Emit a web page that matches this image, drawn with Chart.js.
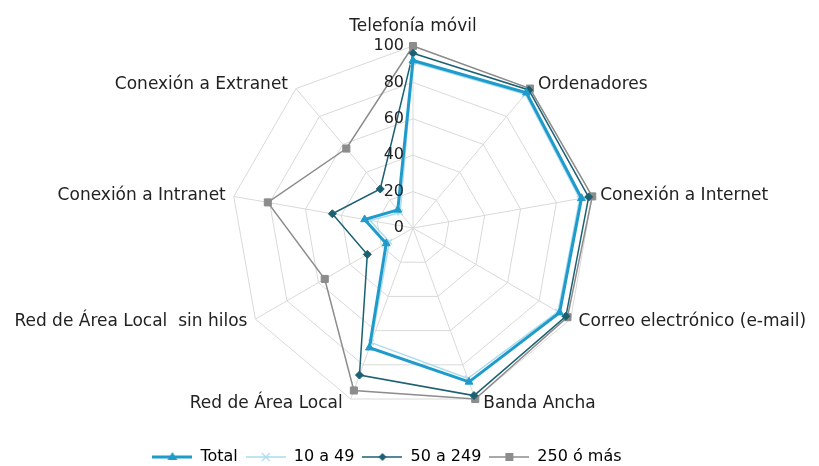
<!DOCTYPE html>
<html>
<head>
<meta charset="utf-8">
<script src="https://cdn.jsdelivr.net/npm/chart.js@4/dist/chart.umd.min.js"></script>
<style>
  html, body { margin: 0; padding: 0; background: #fff; }
  #wrap { width: 819px; height: 466px; position: relative; }
</style>
</head>
<body>
<div id="wrap"><canvas id="chart"></canvas></div>
<script>
// Categories (clockwise from top)
const categories = [
    'Telefonía móvil',
    'Ordenadores',
    'Conexión a Internet',
    'Correo electrónico (e-mail)',
    'Banda Ancha',
    'Red de Área Local',
    'Red de Área Local  sin hilos',
    'Conexión a Intranet',
    'Conexión a Extranet'
];

// Series values (% of companies)
const total      = [92, 97, 94, 93, 90, 70, 17, 27, 13];
const de10a49    = [91, 96, 93, 92, 88, 67, 15, 24, 11];
const de50a249   = [96, 99, 98, 97, 98, 86, 29, 45, 28];
const de250omas  = [100, 100, 100, 98, 100, 95, 56, 81, 57];

const tickValues = [0, 20, 40, 60, 80, 100];

const FONT = 'DejaVu Sans';

// Legend glyph: short line with marker in the middle (Excel style)
function legendGlyph(color, width, style, markerColor) {
    const c = document.createElement('canvas');
    c.width = 40; c.height = 14;
    const ctx = c.getContext('2d');
    ctx.strokeStyle = color;
    ctx.lineWidth = width;
    ctx.beginPath();
    ctx.moveTo(0, 7); ctx.lineTo(40, 7);
    ctx.stroke();
    ctx.fillStyle = markerColor;
    ctx.strokeStyle = markerColor;
    if (style === 'triangle') {
        ctx.beginPath();
        ctx.moveTo(20, 2); ctx.lineTo(25, 10); ctx.lineTo(15, 10);
        ctx.closePath(); ctx.fill();
    } else if (style === 'cross') {
        ctx.lineWidth = 1.2;
        ctx.beginPath();
        ctx.moveTo(16, 3); ctx.lineTo(24, 11);
        ctx.moveTo(24, 3); ctx.lineTo(16, 11);
        ctx.stroke();
    } else if (style === 'diamond') {
        ctx.beginPath();
        ctx.moveTo(20, 3); ctx.lineTo(24, 7); ctx.lineTo(20, 11); ctx.lineTo(16, 7);
        ctx.closePath(); ctx.fill();
    } else {
        ctx.fillRect(16, 3, 8, 8);
    }
    return c;
}

const seriesStyle = [
    { label: 'Total',     data: total,     color: '#1f9bcb', width: 3,   point: 'triangle',  r: 4.5, glyph: 'triangle' },
    { label: '10 a 49',   data: de10a49,   color: '#a9dcee', width: 1.5, point: 'crossRot',  r: 4,   glyph: 'cross' },
    { label: '50 a 249',  data: de50a249,  color: '#1c6172', width: 1.5, point: 'rectRot',   r: 4,   glyph: 'diamond' },
    { label: '250 ó más', data: de250omas, color: '#8c8c8c', width: 1.5, point: 'rect',      r: 5,   glyph: 'square' }
];

// Tick labels left of the vertical axis and Excel-like category labels,
// both placed from the radial scale
const radarText = {
    id: 'radarText',
    afterLayout(chart) {
        // legend sits below the plot, a bit left of centre
        if (chart.legend) {
            chart.legend.top += 31;
            chart.legend.bottom += 31;
            chart.legend.right -= 52;
        }
    },
    afterDatasetsDraw(chart) {
        const s = chart.scales.r;
        const ctx = chart.ctx;
        ctx.save();
        ctx.fillStyle = '#222';

        ctx.font = '16px "' + FONT + '"';
        ctx.textAlign = 'right';
        ctx.textBaseline = 'middle';
        tickValues.forEach(v => {
            const d = s.getDistanceFromCenterForValue(v);
            ctx.fillText(String(v), s.xCenter - 9, s.yCenter - d);
        });

        ctx.font = '17px "' + FONT + '"';
        const outer = s.getDistanceFromCenterForValue(100);
        categories.forEach((label, i) => {
            const p = s.getPointPosition(i, outer);
            const deg = i * 360 / categories.length;
            if (deg === 0) {
                ctx.textAlign = 'center';
                ctx.fillText(label, p.x, p.y - 19);
                return;
            }
            const dy = -5 * Math.cos(deg * Math.PI / 180);
            ctx.textAlign = deg < 180 ? 'left' : 'right';
            ctx.fillText(label, p.x + (deg < 180 ? 8 : -8), p.y + dy);
        });
        ctx.restore();
    }
};

new Chart(document.getElementById('chart'), {
    type: 'radar',
    data: {
        labels: categories,
        datasets: seriesStyle.map(s => ({
            label: s.label,
            data: s.data,
            borderColor: s.color,
            backgroundColor: s.color,
            borderWidth: s.width,
            fill: false,
            tension: 0,
            pointStyle: s.point,
            pointRadius: s.r,
            pointBorderWidth: s.point === 'crossRot' ? 1.2 : 1,
            pointBorderColor: s.color,
            pointBackgroundColor: s.color
        }))
    },
    options: {
        responsive: true,
        maintainAspectRatio: false,
        animation: false,
        layout: { padding: { top: 46, bottom: 22, left: 7, right: 0 } },
        scales: {
            r: {
                min: 0,
                max: 100,
                ticks: { stepSize: 20, display: false },
                grid: { color: '#d9d9d9', lineWidth: 1 },
                angleLines: { color: '#d9d9d9', lineWidth: 1 },
                pointLabels: { display: false }
            }
        },
        plugins: {
            legend: {
                position: 'bottom',
                labels: {
                    usePointStyle: true,
                    pointStyleWidth: 40,
                    font: { family: FONT, size: 16 },
                    color: '#222',
                    padding: 8,
                    generateLabels: function(chart) {
                        return seriesStyle.map((s, i) => ({
                            text: s.label,
                            pointStyle: legendGlyph(s.color, s.width, s.glyph, s.color),
                            fillStyle: s.color,
                            strokeStyle: s.color,
                            lineWidth: 0,
                            datasetIndex: i,
                            hidden: false
                        }));
                    }
                }
            },
            tooltip: { enabled: false }
        }
    },
    plugins: [radarText]
});
</script>
</body>
</html>
